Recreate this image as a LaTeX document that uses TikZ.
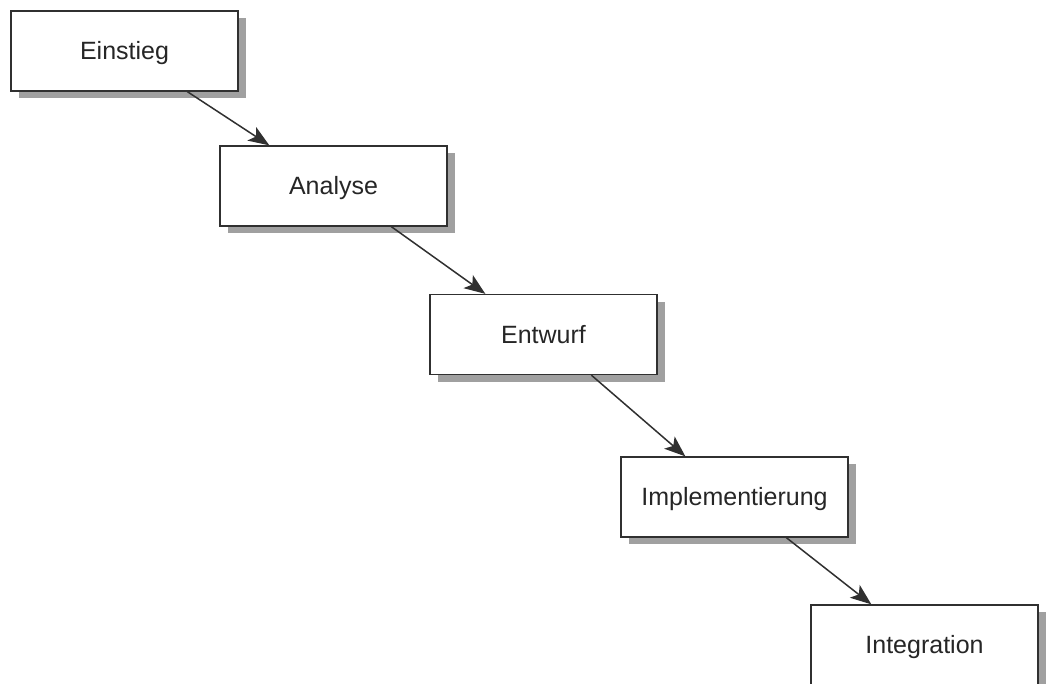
\documentclass[tikz,border=0pt]{standalone}
\usepackage{fontspec}
\setmainfont{Liberation Sans}
\usetikzlibrary{arrows.meta,shadows}
\definecolor{shadowgray}{HTML}{A0A0A0}
\definecolor{edgegray}{HTML}{303030}
\definecolor{textgray}{HTML}{262626}
\begin{document}
\begin{tikzpicture}[x=1pt,y=-1pt,
  phase/.style={draw=edgegray, line width=1.3pt, fill=white,
    minimum width=227pt, minimum height=80pt, inner sep=0pt,
    text height=19pt, text depth=2pt,
    text=textgray, font=\fontsize{25}{30}\selectfont,
    drop shadow={shadow xshift=8pt, shadow yshift=-7pt,
      fill=shadowgray, opacity=1}},
  flow/.style={draw=edgegray, line width=1.5pt,
    -{Stealth[length=21pt,width=16pt,inset=5pt]}}]
  \clip (0,0) rectangle (1048,683);
  \fill[white] (0,0) rectangle (1048,683);

  % phases of the process, stepping down to the right
  \node[phase] (einstieg) at (124.5,51)  {Einstieg};
  \node[phase] (analyse)  at (333.5,186) {Analyse};
  \node[phase] (entwurf)  at (543.5,334.5) {Entwurf};
  \node[phase] (impl)     at (734.5,497) {Implementierung};
  \node[phase] (integ)    at (924.5,645) {Integration};

  % transitions between consecutive phases
  \draw[flow] ([xshift=177pt]einstieg.south west) -- ([xshift=50pt]analyse.north west);
  \draw[flow] ([xshift=172pt]analyse.south west)  -- ([xshift=56pt]entwurf.north west);
  \draw[flow] ([xshift=162pt]entwurf.south west)  -- ([xshift=65pt]impl.north west);
  \draw[flow] ([xshift=166pt]impl.south west)     -- ([xshift=61pt]integ.north west);
\end{tikzpicture}
\end{document}
